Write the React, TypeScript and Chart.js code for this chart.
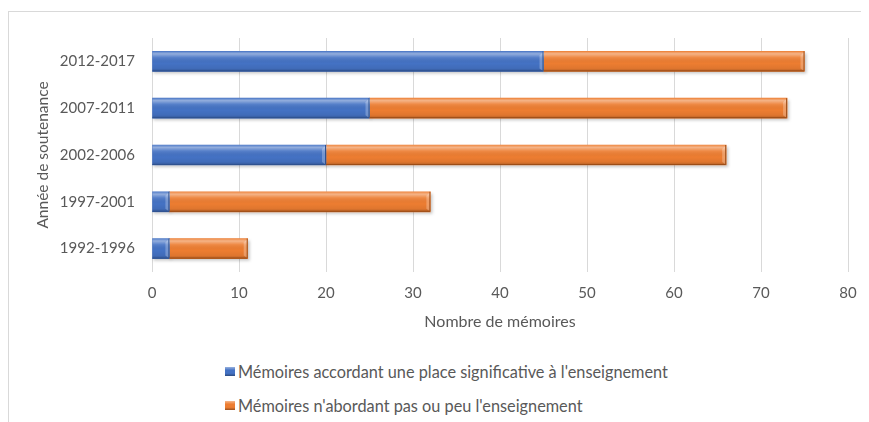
import React, { useEffect, useRef } from "react";
import { Chart, registerables } from "chart.js";

Chart.register(...registerables);

const categories = ["2012-2017", "2007-2011", "2002-2006", "1997-2001", "1992-1996"];
const seriesSignificant = [45, 25, 20, 2, 2];
const seriesPeu = [30, 48, 46, 30, 9];
const seriesNames = [
  "Mémoires accordant une place significative à l'enseignement",
  "Mémoires n'abordant pas ou peu l'enseignement",
];
const xTitle = "Nombre de mémoires";
const yTitle = "Année de soutenance";

const BLUE = "#4472c4";
const BLUE_DARK = "#2f528f";
const ORANGE = "#ed7d31";
const ORANGE_DARK = "#9c4d17";
const TEXT = "#595959";
const FONT = "Lato, 'Noto Sans', sans-serif";

const bevelPlugin = {
  id: "bevel",
  beforeDatasetsDraw(chart: any) {
    const ctx = chart.ctx;
    ctx.save();
    ctx.filter = "blur(1.5px)";
    ctx.fillStyle = "rgba(0,0,0,0.22)";
    chart.data.datasets.forEach((_: any, i: number) => {
      const meta = chart.getDatasetMeta(i);
      meta.data.forEach((bar: any) => {
        const { x, y, base, height } = bar.getProps(["x", "y", "base", "height"], true);
        const left = Math.min(x, base);
        const right = Math.max(x, base);
        ctx.fillRect(left + 1, y - height / 2 + 2, right - left + 1, height);
      });
    });
    ctx.restore();
  },
  afterDatasetsDraw(chart: any) {
    const ctx = chart.ctx;
    const darks = [BLUE_DARK, ORANGE_DARK];
    ctx.save();
    chart.data.datasets.forEach((_: any, i: number) => {
      const meta = chart.getDatasetMeta(i);
      meta.data.forEach((bar: any) => {
        const { x, y, base, height } = bar.getProps(["x", "y", "base", "height"], true);
        const left = Math.min(x, base);
        const right = Math.max(x, base);
        const top = y - height / 2;
        const bottom = y + height / 2;
        const g = ctx.createLinearGradient(0, top, 0, bottom);
        g.addColorStop(0, "rgba(255,255,255,0.10)");
        g.addColorStop(0.12, "rgba(255,255,255,0.42)");
        g.addColorStop(0.3, "rgba(255,255,255,0.10)");
        g.addColorStop(0.6, "rgba(0,0,0,0)");
        g.addColorStop(0.85, "rgba(0,0,0,0.06)");
        g.addColorStop(1, "rgba(0,0,0,0.25)");
        ctx.fillStyle = g;
        ctx.fillRect(left, top, right - left, height);
        // bevel on the right end
        ctx.fillStyle = "rgba(255,255,255,0.25)";
        ctx.beginPath();
        ctx.moveTo(right - 4, top + 4);
        ctx.lineTo(right, top);
        ctx.lineTo(right, bottom);
        ctx.lineTo(right - 4, bottom - 3);
        ctx.closePath();
        ctx.fill();
        ctx.strokeStyle = darks[i];
        ctx.lineWidth = 1;
        ctx.beginPath();
        ctx.moveTo(left, bottom - 0.5);
        ctx.lineTo(right - 0.5, bottom - 0.5);
        ctx.lineTo(right - 0.5, top);
        ctx.stroke();
      });
    });
    ctx.restore();
  },
};

function LegendSwatch({ color }: { color: string }) {
  return (
    <span
      style={{
        display: "inline-block",
        width: 10,
        height: 9,
        marginRight: 3,
        background: `linear-gradient(180deg, rgba(255,255,255,0.45) 0%, ${color} 35%, ${color} 70%, rgba(0,0,0,0.35) 100%), ${color}`,
      }}
    />
  );
}

export default function App() {
  const canvasRef = useRef<HTMLCanvasElement | null>(null);

  useEffect(() => {
    if (!canvasRef.current) return;
    const chart = new Chart(canvasRef.current, {
      type: "bar",
      data: {
        labels: categories,
        datasets: [
          {
            label: seriesNames[0],
            data: seriesSignificant,
            backgroundColor: BLUE,
            borderWidth: 0,
            barThickness: 20,
          },
          {
            label: seriesNames[1],
            data: seriesPeu,
            backgroundColor: ORANGE,
            borderWidth: 0,
            barThickness: 20,
          },
        ],
      },
      options: {
        indexAxis: "y",
        animation: false,
        responsive: false,
        maintainAspectRatio: false,
        layout: { padding: { left: 0, right: 21, top: 21, bottom: 11 } },
        plugins: {
          legend: { display: false },
          tooltip: { enabled: false },
        },
        scales: {
          x: {
            stacked: true,
            min: 0,
            max: 80,
            ticks: {
              stepSize: 10,
              color: TEXT,
              font: { family: FONT, size: 15 },
              padding: 12,
            },
            grid: { color: "#d9d9d9", drawTicks: false },
            border: { display: false },
            title: {
              display: true,
              text: xTitle,
              color: TEXT,
              font: { family: FONT, size: 16 },
              padding: { top: 0, bottom: 0 },
            },
            afterFit(scale: any) {
              scale.height = 59;
            },
          },
          y: {
            stacked: true,
            ticks: {
              color: TEXT,
              font: { family: FONT, size: 15 },
              padding: 17,
            },
            grid: { display: false, drawTicks: false },
            border: { display: false },
            title: {
              display: true,
              text: yTitle,
              color: TEXT,
              font: { family: FONT, size: 15.5 },
              padding: { top: 25, bottom: 0 },
            },
            afterFit(scale: any) {
              scale.width = 143;
            },
          },
        },
      },
      plugins: [bevelPlugin],
    });
    return () => chart.destroy();
  }, []);

  const legendRow = (top: number, color: string, text: string) => (
    <div
      style={{
        position: "absolute",
        left: 216,
        top,
        height: 20,
        display: "flex",
        alignItems: "center",
        fontFamily: FONT,
        fontSize: 16.3,
        color: TEXT,
        whiteSpace: "nowrap",
      }}
    >
      <LegendSwatch color={color} />
      <span>{text}</span>
    </div>
  );

  return (
    <div
      style={{
        position: "relative",
        marginTop: 3,
        width: 861,
        height: 411,
        boxSizing: "border-box",
        borderTop: "1px solid #d9d9d9",
        borderLeft: "1px solid #d9d9d9",
        background: "#fff",
      }}
    >
      <canvas
        ref={canvasRef}
        width={860}
        height={330}
        style={{ position: "absolute", left: 0, top: 0, width: 860, height: 330 }}
      />
      {legendRow(349, BLUE, seriesNames[0])}
      {legendRow(383, ORANGE, seriesNames[1])}
    </div>
  );
}
